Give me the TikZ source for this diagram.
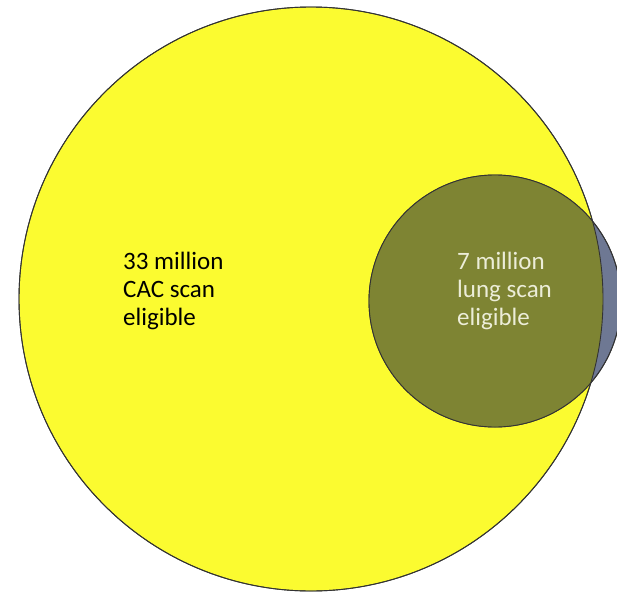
\documentclass[tikz,border=0pt]{standalone}
\usepackage{fontspec}
\setmainfont{Carlito}
\definecolor{cacyellow}{HTML}{FBFB30}
\definecolor{lungolive}{HTML}{7E8433}
\definecolor{lunggray}{HTML}{6E7893}
\definecolor{lighttext}{HTML}{ECEDD8}
\tikzset{
  SetStyle/.style = { circle, draw = black!80, line width = 0.9pt, inner sep = 0pt },
  LabelStyle/.style = { anchor = west, align = left, inner sep = 0pt,
                        font = \fontsize{25}{28}\selectfont }
}
\begin{document}
\begin{tikzpicture}[x=1pt,y=-1pt]
  \useasboundingbox (0,0) rectangle (617,594);
  % CAC scan eligible
  \node[SetStyle, fill=cacyellow, minimum size=584pt](CAC) at (311,299) {};
  % lung scan eligible
  \node[SetStyle, fill=lunggray, minimum size=252pt](LUNG) at (495,301) {};
  \begin{scope}
    \clip (311,299) circle [radius=292pt];
    \fill[lungolive] (495,301) circle [radius=126pt];
  \end{scope}
  \draw[black!80, line width=0.9pt] (CAC.center) circle [radius=292pt];
  \draw[black!80, line width=0.9pt] (LUNG.center) circle [radius=126pt];
  % labels
  \node[LabelStyle, text=black](cacLabel) at (123,291) {33 million\\CAC scan\\eligible};
  \node[LabelStyle, text=lighttext](lungLabel) at (457,291) {7 million\\lung scan\\eligible};
\end{tikzpicture}
\end{document}
